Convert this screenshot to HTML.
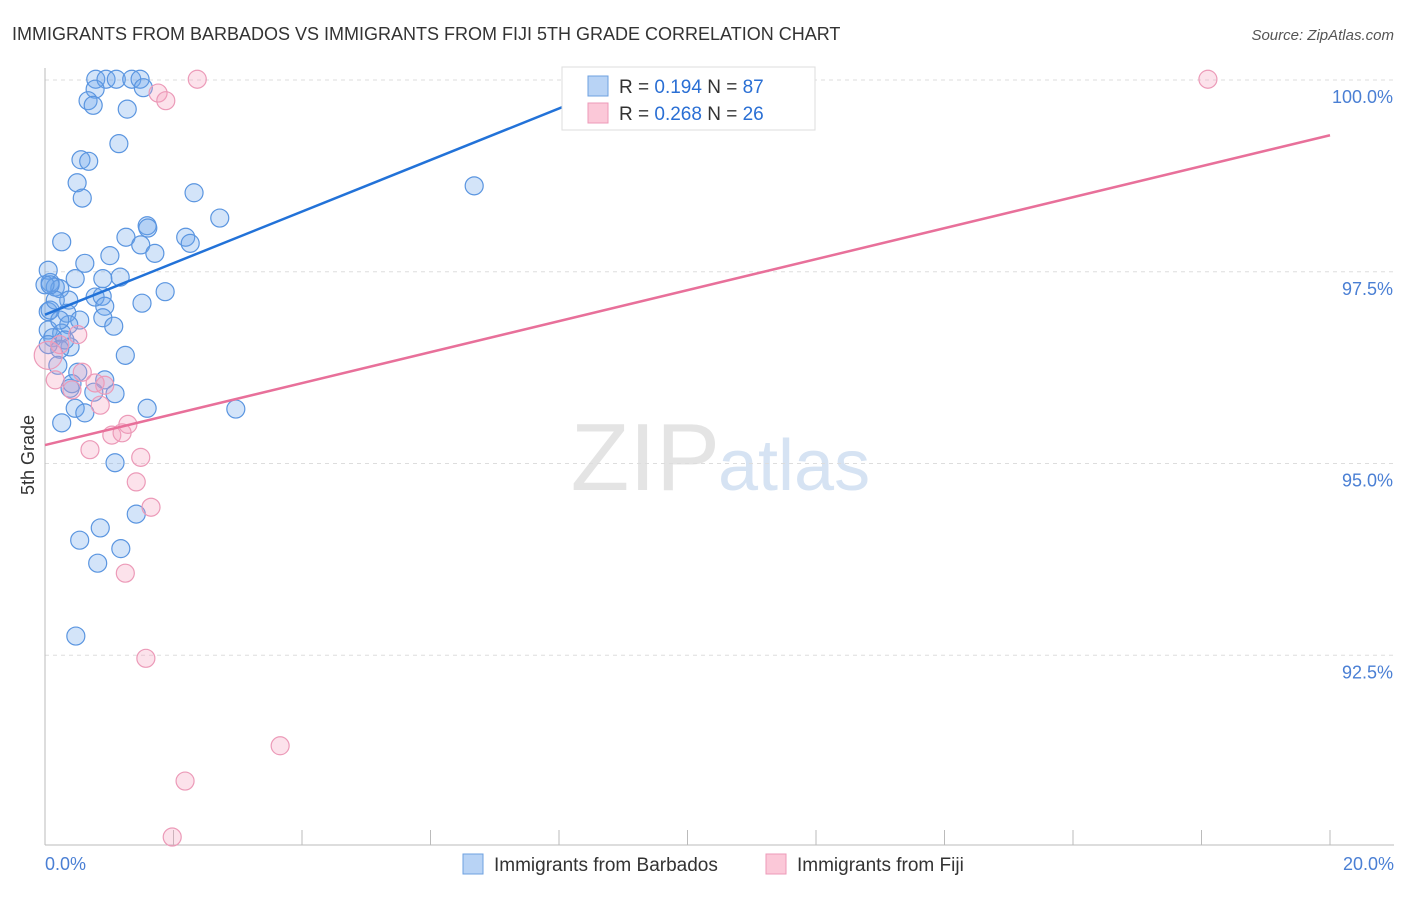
<!DOCTYPE html>
<html><head><meta charset="utf-8"><style>
body{margin:0;background:#fff;font-family:"Liberation Sans",sans-serif;}
svg text{font-family:"Liberation Sans",sans-serif;}
</style></head><body>
<svg width="1406" height="892" xmlns="http://www.w3.org/2000/svg">
<text x="12" y="40" font-size="18" fill="#333">IMMIGRANTS FROM BARBADOS VS IMMIGRANTS FROM FIJI 5TH GRADE CORRELATION CHART</text>
<text x="1394" y="40" font-size="15" fill="#555" text-anchor="end" font-style="italic">Source: ZipAtlas.com</text>
<text x="720" y="490" font-size="96" fill="#e4e4e4" text-anchor="end" font-family="Liberation Serif">ZIP</text>
<text x="718" y="490" font-size="72" fill="#d6e3f3">atlas</text>
<g id="grid"></g>
<line x1="45" y1="68" x2="45" y2="845" stroke="#bbb"/>
<line x1="45" y1="845" x2="1394" y2="845" stroke="#bbb"/>
<text x="34" y="455" font-size="18" fill="#333" text-anchor="middle" transform="rotate(-90 34 455)">5th Grade</text>
<text x="45" y="870" font-size="18" fill="#4a7fd4">0.0%</text>
<text x="1394" y="870" font-size="18" fill="#4a7fd4" text-anchor="end">20.0%</text>
<g id="pts"></g>
<g id="trends"></g>
<g>
<rect x="562" y="67" width="253" height="63" fill="#fff" stroke="#ddd"/>
<rect x="588" y="76" width="20" height="20" fill="#b8d3f5" stroke="#6ea0e0"/>
<text x="619" y="93" font-size="19" fill="#333">R = <tspan fill="#2a6fd4">0.194</tspan>   N = <tspan fill="#2a6fd4">87</tspan></text>
<rect x="588" y="103" width="20" height="20" fill="#fbc8d8" stroke="#ec9ab8"/>
<text x="619" y="120" font-size="19" fill="#333">R = <tspan fill="#2a6fd4">0.268</tspan>   N = <tspan fill="#2a6fd4">26</tspan></text>
</g>
<g>
<rect x="463" y="854" width="20" height="20" fill="#b8d3f5" stroke="#6ea0e0"/>
<text x="494" y="871" font-size="19" fill="#333">Immigrants from Barbados</text>
<rect x="766" y="854" width="20" height="20" fill="#fbc8d8" stroke="#ec9ab8"/>
<text x="797" y="871" font-size="19" fill="#333">Immigrants from Fiji</text>
</g>
</svg>
<script>
const yTicks=[100,97.5,95,92.5];
const yTickLabels=["100.0%","97.5%","95.0%","92.5%"];
const xTicks=[0,2,4,6,8,10,12,14,16,18,20];
const blueX=[0.79,0.95,1.11,1.35,1.48,0.78,1.53,0.67,0.75,1.28,1.15,0.56,0.68,0.50,0.58,6.68,2.32,2.72,1.59,1.60,0.26,1.26,2.19,1.49,2.26,1.71,1.01,0.62,1.17,0.47,0.90,0.08,0.16,0.23,1.87,0.78,0.89,0.37,1.51,0.93,0.05,0.34,0.90,0.54,1.07,0.37,0.05,0.26,0.12,0.39,0.23,1.25,0.51,0.93,0.39,0.76,1.09,0.47,1.59,2.97,0.62,0.26,1.09,1.42,0.86,0.54,1.18,0.82,0.48,0.05,0.0,0.08,0.05,0.2,0.31,0.16,0.42,0.08,0.23];
const blueY=[100.01,100.01,100.01,100.01,100.01,99.88,99.90,99.73,99.67,99.62,99.17,98.96,98.94,98.66,98.46,98.62,98.53,98.20,98.10,98.07,97.89,97.95,97.95,97.85,97.87,97.74,97.71,97.61,97.43,97.41,97.41,97.36,97.30,97.28,97.24,97.17,97.18,97.13,97.09,97.05,96.98,96.96,96.90,96.87,96.79,96.81,96.74,96.70,96.64,96.52,96.49,96.41,96.19,96.09,95.98,95.93,95.91,95.72,95.72,95.71,95.66,95.53,95.01,94.34,94.16,94.00,93.89,93.70,92.75,97.52,97.33,97.00,96.55,96.28,96.61,97.13,96.04,97.33,96.87];
const pinkX=[2.37,1.76,1.88,18.1,0.05,0.51,0.23,0.58,0.78,0.42,0.86,1.04,1.20,1.29,0.70,1.49,1.42,1.65,1.25,1.57,3.66,2.18,1.98,0.16,0.93];
const pinkY=[100.01,99.83,99.73,100.01,96.41,96.68,96.55,96.19,96.05,95.96,95.76,95.37,95.40,95.51,95.18,95.08,94.76,94.43,93.57,92.46,91.32,90.86,90.13,96.09,96.02];
const blueTrend=[[0,96.94],[8.33,99.74]];
const pinkTrend=[[0,95.24],[20,99.28]];
const NS="http://www.w3.org/2000/svg";
const sx=v=>45+v*64.25, sy=v=>80+(100-v)*76.7;
function mk(t,a,p){const e=document.createElementNS(NS,t);for(const k in a)e.setAttribute(k,a[k]);p.appendChild(e);return e;}
const grid=document.getElementById('grid');
yTicks.forEach((t,i)=>{
 const l=mk('line',{x1:45,x2:1394,y1:sy(t),y2:sy(t),stroke:'#ddd','stroke-dasharray':'4,4'},grid);
 
 
 const tx=mk('text',{x:1393,y:sy(t)+23,'font-size':18,fill:'#4a7fd4','text-anchor':'end'},grid);
 tx.textContent=yTickLabels[i];
 
 
});
xTicks.forEach(t=>{
 const l=mk('line',{x1:sx(t),x2:sx(t),y1:830,y2:845,stroke:'#bbb'},grid);
 
 
});
const pts=document.getElementById('pts');
blueX.forEach((x,i)=>{
 const c=mk('circle',{cx:sx(x),cy:sy(blueY[i]),r:9,fill:'rgba(110,165,235,0.3)',stroke:'#5a95e0','stroke-width':1.2},pts);
 
 
});
pinkX.forEach((x,i)=>{
 const c=mk('circle',{cx:sx(x),cy:sy(pinkY[i]),r:i==4?14:9,fill:'rgba(245,160,190,0.3)',stroke:'#ec9ab8','stroke-width':1.2},pts);
 
 
});
const tr=document.getElementById('trends');
const b=mk('line',{x1:sx(blueTrend[0][0]),y1:sy(blueTrend[0][1]),x2:sx(blueTrend[1][0]),y2:sy(blueTrend[1][1]),stroke:'#2272d8','stroke-width':2.5},tr);


const p=mk('line',{x1:sx(pinkTrend[0][0]),y1:sy(pinkTrend[0][1]),x2:sx(pinkTrend[1][0]),y2:sy(pinkTrend[1][1]),stroke:'#e8709a','stroke-width':2.5},tr);


</script>
</body></html>
